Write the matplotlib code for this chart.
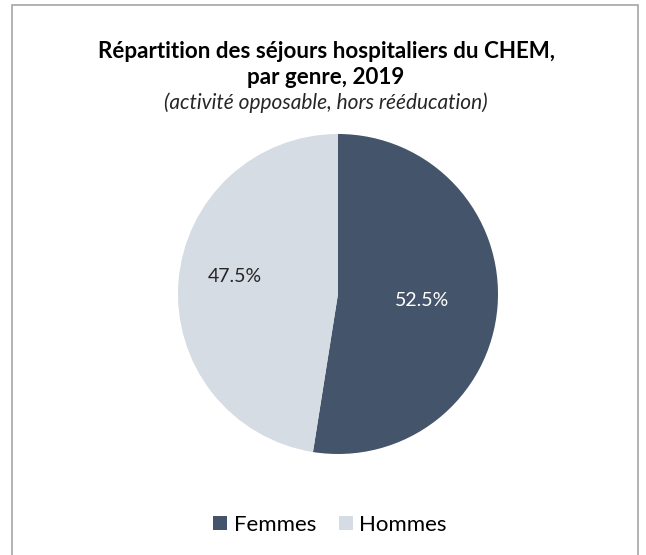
import numpy as np
import matplotlib
matplotlib.use("Agg")
import matplotlib.pyplot as plt
from matplotlib.patches import Rectangle, Patch

plt.rcParams['font.family'] = ['Lato', 'DejaVu Sans']

# dane
labels = ["Femmes", "Hommes"]
values = [52.5, 47.5]
colors = ["#44546A", "#D6DCE4"]
label_colors = ["white", "#262626"]
label_dist = [0.53, 0.645]
label_dy = [0.0, 0.058]

fig = plt.figure(figsize=(6.46, 5.55), dpi=100)
fig.patch.set_facecolor("white")

# ramka wykresu
fig.add_artist(Rectangle((12 / 646, -0.05), 626 / 646, 1.05 - 5 / 555,
                         transform=fig.transFigure, fill=False,
                         edgecolor="#A6A6A6", linewidth=1.2))

# pie: center (338,294), r=160 px
cx, cy, r = 338, 294, 160
ax = fig.add_axes([(cx - r) / 646, (555 - cy - r) / 555, 2 * r / 646, 2 * r / 555])
wedges, _ = ax.pie(values, colors=colors, startangle=90, counterclock=False,
                   radius=1.0, wedgeprops=dict(linewidth=0))
ax.set_xlim(-1, 1)
ax.set_ylim(-1, 1)
ax.set_aspect("equal")
ax.axis("off")

for w, v, c, d, dy in zip(wedges, values, label_colors, label_dist, label_dy):
    ang = np.deg2rad((w.theta1 + w.theta2) / 2)
    ax.text(d * np.cos(ang), d * np.sin(ang) + dy, f"{v:.1f}%", ha="center", va="center",
            fontsize=14, color=c)

tx = 326 / 646
fig.text(tx, 1 - 52 / 555, "Répartition des séjours hospitaliers du CHEM,",
         ha="center", va="center", fontsize=16.1, fontweight="bold", color="black")
fig.text(tx, 1 - 78 / 555, "par genre, 2019",
         ha="center", va="center", fontsize=16.1, fontweight="bold", color="black")
fig.text(tx, 1 - 103 / 555, "(activité opposable, hors rééducation)",
         ha="center", va="center", fontsize=15, fontstyle="italic", color="#262626")

handles = [Patch(facecolor=c, edgecolor="none") for c in colors]
fig.legend(handles, labels, loc="center", bbox_to_anchor=(330 / 646, 1 - 525 / 555),
           ncol=2, frameon=False, fontsize=16, handlelength=0.63, handleheight=0.63,
           handletextpad=0.3, columnspacing=1.0, borderaxespad=0)

fig.savefig("out.png", dpi=100)
